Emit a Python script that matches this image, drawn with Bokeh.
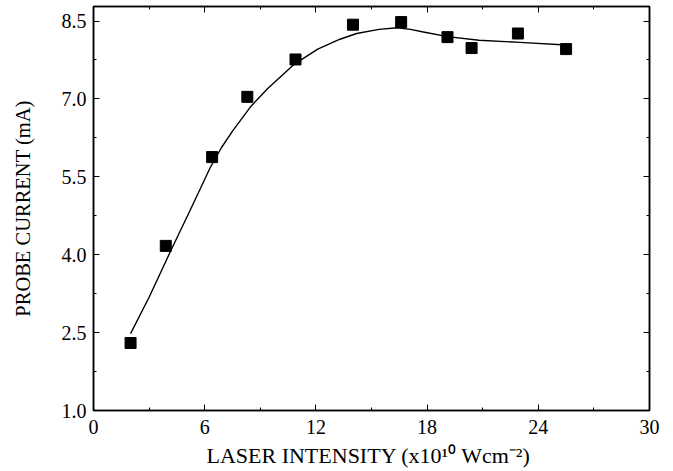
from bokeh.plotting import figure
from bokeh.models import (Range1d, FixedTicker, LinearAxis, PrintfTickFormatter,
                          CustomJSTickFormatter)
from bokeh.embed import file_html
from bokeh.resources import INLINE

# measured data
intensity = [2.0, 3.9, 6.4, 8.3, 10.9, 14.0, 16.6, 19.1, 20.4, 22.9, 25.5]
current = [2.30, 4.17, 5.88, 7.04, 7.76, 8.43, 8.48, 8.19, 7.98, 8.26, 7.96]

# fitted curve
fit_x = [2.0, 3.0, 4.2, 5.1, 5.8, 6.3, 6.9, 7.5, 8.5, 9.4, 10.8, 12.1, 13.3, 14.2,
         15.4, 16.4, 17.1, 17.8, 19.1, 20.8, 23.0, 25.5]
fit_y = [2.48, 3.18, 4.10, 4.77, 5.30, 5.68, 6.06, 6.38, 6.86, 7.20, 7.66, 7.96,
         8.15, 8.26, 8.34, 8.37, 8.34, 8.29, 8.20, 8.13, 8.09, 8.04]

x_ticks = [0, 6, 12, 18, 24, 30]
x_minor = [3, 9, 15, 21, 27]
y_ticks = [1.0, 2.5, 4.0, 5.5, 7.0, 8.5]
y_minor = [1.75, 3.25, 4.75, 6.25, 7.75]

x_title = "LASER INTENSITY (x10¹⁰  Wcm⁻²)"
y_title = "PROBE CURRENT (mA)"

FONT = "Liberation Serif"

p = figure(frame_width=556, frame_height=404, output_backend="svg",
           toolbar_location=None,
           x_range=Range1d(0, 30), y_range=Range1d(1.0, 8.78),
           min_border_left=93, min_border_right=15, min_border_top=6,
           min_border_bottom=10)
p.grid.visible = False
p.outline_line_color = "black"
p.outline_line_width = 1.5
p.background_fill_color = "white"
p.border_fill_color = "white"

for ax in (p.xaxis[0], p.yaxis[0]):
    ax.axis_line_width = 1.5
    ax.axis_line_color = "black"
    ax.major_tick_in = 6
    ax.major_tick_out = 0
    ax.minor_tick_in = 3
    ax.minor_tick_out = 0
    ax.major_tick_line_color = "black"
    ax.minor_tick_line_color = "black"
    ax.major_label_text_font = FONT
    ax.major_label_text_font_size = "20px"
    ax.major_label_text_color = "black"
    ax.axis_label_text_font = FONT
    ax.axis_label_text_font_style = "normal"
    ax.axis_label_text_color = "black"

p.xaxis[0].ticker = FixedTicker(ticks=x_ticks, minor_ticks=x_minor)
p.yaxis[0].ticker = FixedTicker(ticks=y_ticks, minor_ticks=y_minor)
p.yaxis[0].formatter = PrintfTickFormatter(format="%.1f")
p.xaxis[0].major_label_standoff = 9
p.yaxis[0].major_label_standoff = 7

p.xaxis[0].axis_label = x_title
p.xaxis[0].axis_label_text_font_size = "22px"
p.xaxis[0].axis_label_standoff = 6
p.yaxis[0].axis_label = y_title
p.yaxis[0].axis_label_text_font_size = "20.5px"
p.yaxis[0].axis_label_standoff = 25

# mirrored tick axes (ticks only, empty labels)
for loc, tk, mn in (("above", x_ticks, x_minor), ("right", y_ticks, y_minor)):
    ax = LinearAxis(ticker=FixedTicker(ticks=tk, minor_ticks=mn),
                    formatter=CustomJSTickFormatter(code="return ''"),
                    major_label_text_font_size="1px", major_label_standoff=0,
                    major_tick_in=6, major_tick_out=0, minor_tick_in=3,
                    minor_tick_out=0, axis_line_width=1.5)
    p.add_layout(ax, loc)

p.line(fit_x, fit_y, line_color="black", line_width=1.4)
p.scatter(intensity, current, marker="square", size=11, fill_color="black",
          line_color="black")

open("out.html", "w").write(file_html(p, INLINE))
